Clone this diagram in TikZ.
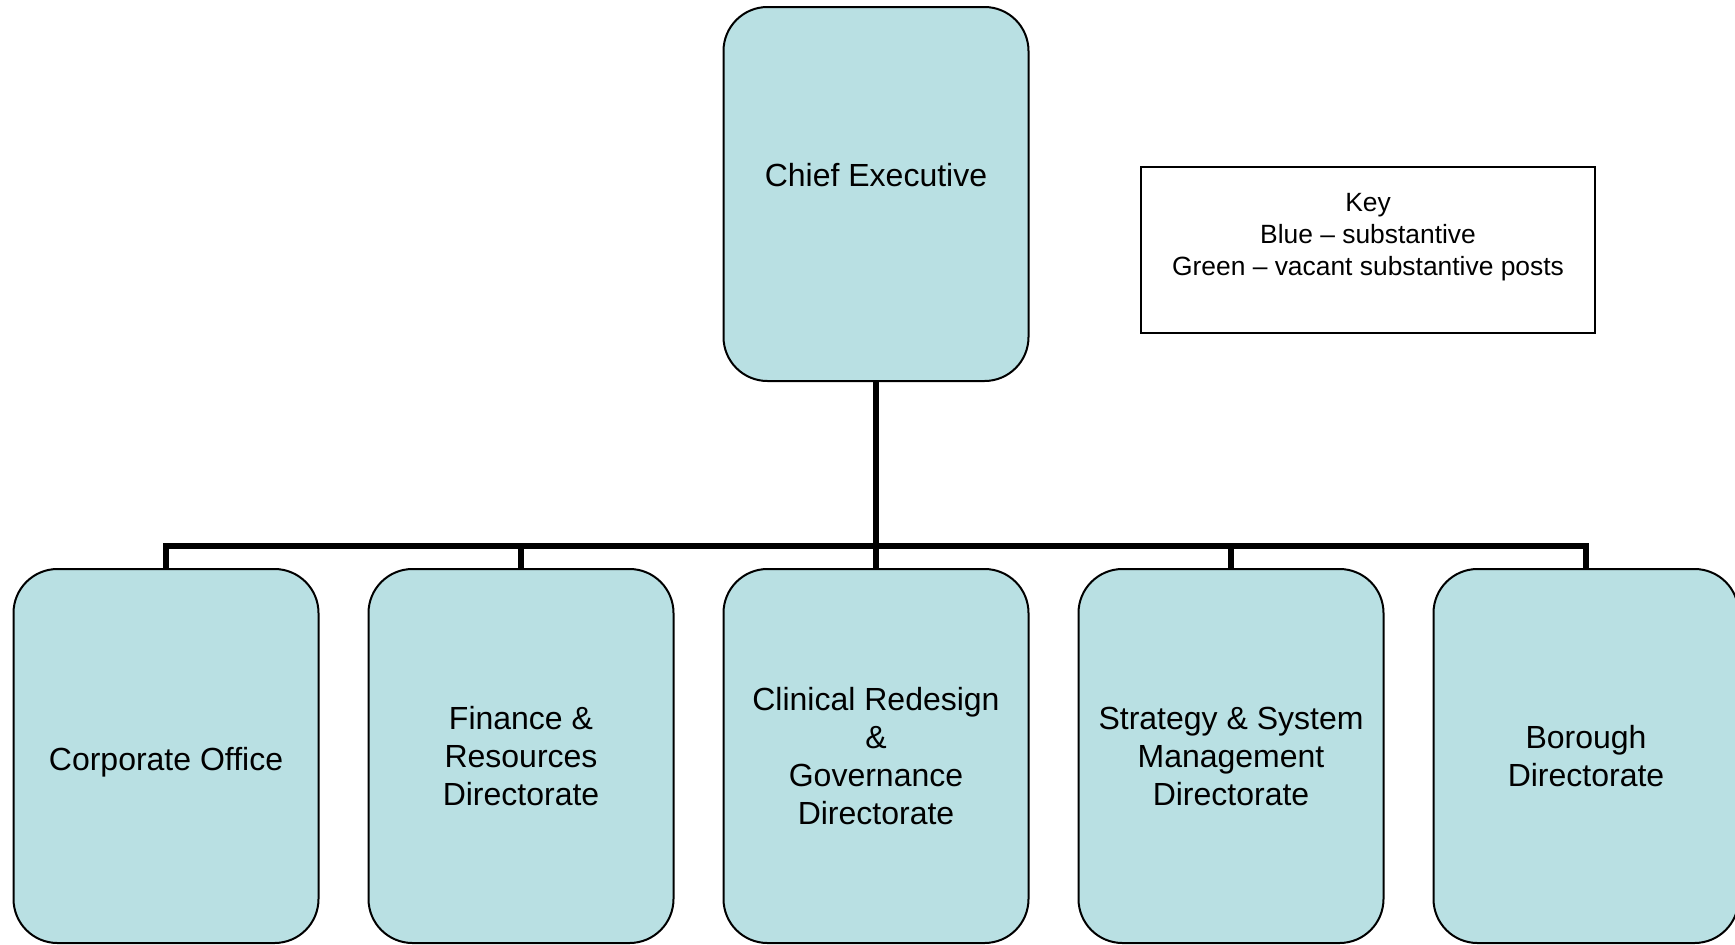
\documentclass[tikz,border=0pt]{standalone}
\usepackage{fontspec}
\setmainfont{Liberation Sans}
\usetikzlibrary{positioning}
\definecolor{postblue}{RGB}{185,224,227}
\tikzset{every picture/.style={line width=0.75pt}}
\tikzset{
  post/.style={draw,line width=1pt,fill=postblue,rounded corners=22pt,minimum width=152.5pt,minimum height=187pt,align=center,font=\fontsize{16}{19}\selectfont,inner sep=0pt},
  lowpost/.style={post,execute at begin node={\rule{0pt}{18pt}}},
  keybox/.style={draw,minimum width=227pt,minimum height=83pt,align=center,font=\fontsize{13.2}{16}\selectfont},
  link/.style={line width=3.25pt,line join=miter}
}

\begin{document}
\begin{tikzpicture}[x=0.5pt,y=-0.5pt]
	\useasboundingbox (0,0) rectangle (1735,944);
	\node[post] (chief) at (876,194) {Chief Executive\\\mbox{}}; %top
	\node[keybox] (key) at (1368,250) {Key\\Blue -- substantive\\Green -- vacant substantive posts\\\mbox{}}; %key
	\node[lowpost] (corp) at (166,756) {Corporate Office};
	\node[lowpost,right=24pt of corp] (fin) {Finance \&\\Resources\\Directorate};
	\node[lowpost,right=24pt of fin] (clin) {Clinical Redesign\\\&\\Governance\\Directorate};
	\node[lowpost,right=24pt of clin] (strat) {Strategy \& System\\Management\\Directorate};
	\node[lowpost,right=24pt of strat] (boro) {Borough\\Directorate};
	\coordinate (bus) at (876,546);
	\draw[link] (chief.south) -- (bus); %down from chief
	\draw[link] (corp.north) |- (bus) -| (boro.north);
	\foreach \n in {fin,clin,strat}
		\draw[link] (\n.north) -- (\n.north |- bus);
\end{tikzpicture}
\end{document}
